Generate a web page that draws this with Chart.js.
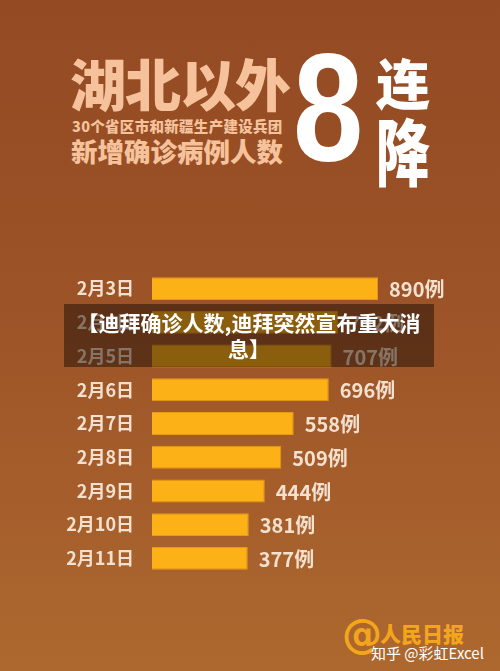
<!DOCTYPE html>
<html>
<head>
<meta charset="utf-8">
<script src="https://cdn.jsdelivr.net/npm/chart.js@4.4.0/dist/chart.umd.min.js"></script>
<style>
    html, body { margin: 0; padding: 0; }
    body {
        width: 500px; height: 671px; position: relative; overflow: hidden;
        background: linear-gradient(180deg, #944a23 0%, #9c5327 45%, #ad682f 100%);
        font-family: "Noto Sans CJK SC", "Noto Sans", sans-serif;
    }
    .abs { position: absolute; white-space: nowrap; }
    #title1 { left: 70px; top: 42px; font-size: 56px; font-weight: 900; color: #f5c29c; letter-spacing: -1px; line-height: 80px; }
    #title2 { left: 72px; top: 115px; font-size: 14.5px; font-weight: 900; color: #f5c29c; line-height: 22px; letter-spacing: 0.3px; }
    #title3 { left: 71px; top: 132px; font-size: 26.5px; font-weight: 900; color: #f5c29c; line-height: 38px; }
    #big8 { left: 293px; top: 23px; font-family: "Liberation Sans", sans-serif; font-size: 154px; font-weight: 700; color: #fff; line-height: 170px; transform: scaleX(0.82); transform-origin: left top; }
    #lian { left: 376px; top: 44px; font-size: 54px; font-weight: 900; color: #fff; line-height: 76px; }
    #jiang { left: 376px; top: 98px; font-size: 54px; font-weight: 900; color: #fff; line-height: 76px; transform: scaleY(1.35); transform-origin: left top; }
    #chartBox { position: absolute; left: 0; top: 251px; width: 500px; height: 345px; }
    #overlay {
        position: absolute; left: 64px; top: 304px; width: 370px; height: 63px;
        background: rgba(35, 18, 8, 0.52); color: #fff; text-align: center;
        font-size: 21px; font-weight: 700; line-height: 26px; padding-top: 5px; box-sizing: border-box;
    }
    #logoAt { left: 342px; top: 606px; font-size: 40px; font-weight: 700; color: #f3a51c; line-height: 56px; font-family: "DejaVu Sans", sans-serif; }
    #logoTxt { left: 380px; top: 618px; font-size: 21px; font-weight: 900; color: #f3a51c; line-height: 30px; }
    #mark { left: 371px; top: 642px; font-size: 15px; color: #fff; line-height: 22px; }
</style>
</head>
<body>
<div class="abs" id="title1">湖北以外</div>
<div class="abs" id="title2">30个省区市和新疆生产建设兵团</div>
<div class="abs" id="title3">新增确诊病例人数</div>
<div class="abs" id="big8">8</div>
<div class="abs" id="lian">连</div>
<div class="abs" id="jiang">降</div>

<div id="chartBox"><canvas id="barChart"></canvas></div>

<div id="overlay">【迪拜确诊人数,迪拜突然宣布重大消<br>息】</div>

<div class="abs" id="logoAt">@</div>
<div class="abs" id="logoTxt">人民日报</div>
<div class="abs" id="mark">知乎 @彩虹Excel</div>

<script>
// --- data ---
const dates = ['2月3日', '2月4日', '2月5日', '2月6日', '2月7日', '2月8日', '2月9日', '2月10日', '2月11日'];
const newCases = [890, 732, 707, 696, 558, 509, 444, 381, 377];
const unit = '例';

// --- value labels after each bar ---
const valueLabels = {
    id: 'valueLabels',
    afterDatasetsDraw(chart) {
        const c = chart.ctx;
        const meta = chart.getDatasetMeta(0);
        c.save();
        c.font = '700 20px "Noto Sans CJK SC", sans-serif';
        c.fillStyle = '#f3e0cf';
        c.textAlign = 'left';
        c.textBaseline = 'middle';
        meta.data.forEach((bar, i) => {
            c.fillText(newCases[i] + unit, bar.x + 11, bar.y + 1);
        });
        c.restore();
    }
};

const ctx = document.getElementById('barChart').getContext('2d');
new Chart(ctx, {
    type: 'bar',
    data: {
        labels: dates,
        datasets: [{
            data: newCases,
            backgroundColor: '#fcb116',
            borderColor: '#e89a10',
            borderWidth: 1,
            barPercentage: 0.68,
            categoryPercentage: 1
        }]
    },
    options: {
        indexAxis: 'y',
        responsive: true,
        maintainAspectRatio: false,
        animation: false,
        layout: { padding: 0 },
        plugins: { legend: { display: false }, tooltip: { enabled: false } },
        scales: {
            x: { display: false, min: 0, max: 1370 },
            y: {
                grid: { display: false },
                border: { display: false },
                afterFit(scale) { scale.width = 152; },
                ticks: {
                    padding: 10,
                    color: '#f3e0cf',
                    font: { family: '"Noto Sans CJK SC", sans-serif', size: 18, weight: '700' }
                }
            }
        }
    },
    plugins: [valueLabels]
});
</script>
</body>
</html>
